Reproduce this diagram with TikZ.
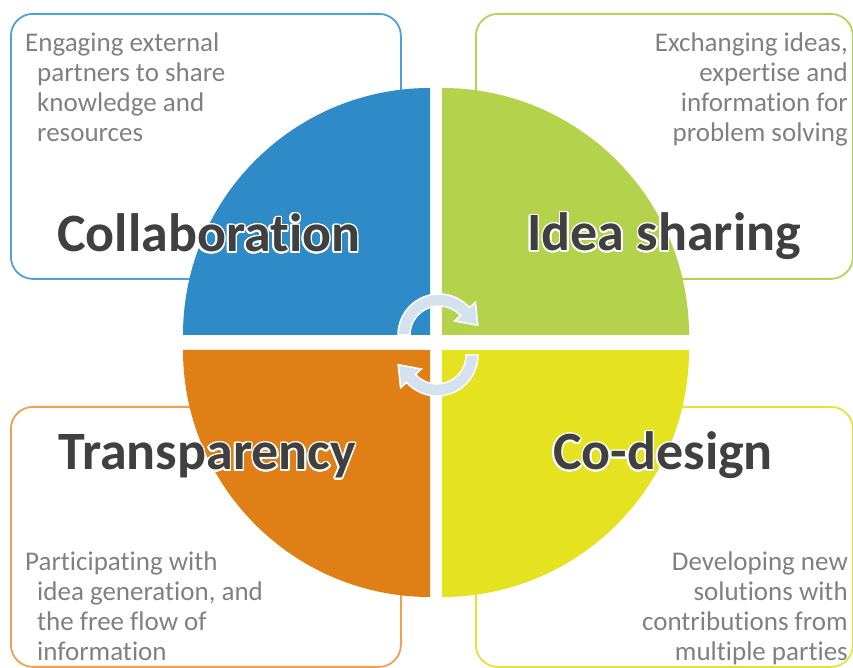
\documentclass[tikz,border=0pt]{standalone}
\usepackage{fontspec}
\setmainfont{Carlito}[Ligatures=NoCommon]
\usetikzlibrary{positioning}
\IfFileExists{contour.sty}{\usepackage{contour}\contourlength{1.6pt}\def\glowcmd{\contour{white}}}{\def\glowcmd{}}
\newcommand\glowlabel[1]{\glowcmd{#1}}

\definecolor{collabblue}{RGB}{46,139,200}
\definecolor{collabline}{RGB}{80,160,215}
\definecolor{ideagreen}{RGB}{180,210,75}
\definecolor{idealine}{RGB}{180,212,85}
\definecolor{transporange}{RGB}{224,127,22}
\definecolor{transpline}{RGB}{239,160,85}
\definecolor{codesignyellow}{RGB}{229,226,31}
\definecolor{codesignline}{RGB}{229,226,60}
\definecolor{notegray}{RGB}{128,128,128}
\definecolor{topicgray}{RGB}{64,64,64}
\definecolor{arrowblue}{RGB}{212,226,240}

\begin{document}
\begin{tikzpicture}
    [x=1pt, y=1pt,
    % STYLES
    % The frame style is used for the rounded boxes behind each quarter
    frame/.style={rectangle, rounded corners=22pt, line width=1.8pt, minimum width=390pt, minimum height=265pt, inner sep=0pt, anchor=north west},
    % The note style is used for the small descriptions in the boxes
    note/.style={inner sep=0pt, font=\fontsize{27}{30}\selectfont, text=notegray},
    % The topic style is used for the big name of each quarter
    topic/.style={inner sep=0pt, anchor=base west, font=\fontsize{54}{60}\selectfont\bfseries, text=topicgray},
    % The cycler style is used for the two round arrows in the middle
    cycler/.style={fill=arrowblue, draw=white, line width=1.5pt}]

    \useasboundingbox (0,0) rectangle (853,668);

    % Draw boxes
    \node [frame, draw=collabline] (collabBox) at (10,655) {};
    \node [frame, draw=idealine, minimum width=377pt] (ideaBox) at (475,655) {};
    \node [frame, draw=transpline, minimum height=260pt] (transpBox) at (10,262) {};
    \node [frame, draw=codesignline, minimum width=377pt, minimum height=260pt] (codesignBox) at (475,262) {};

    % Draw quarters
    \fill [collabblue] (430,333) -- (183,333) arc[start angle=180, end angle=90, radius=247] -- cycle;
    \fill [ideagreen] (442,333) -- (442,580) arc[start angle=90, end angle=0, radius=247] -- cycle;
    \fill [transporange] (430,318) -- (183,318) arc[start angle=180, end angle=270, radius=247] -- cycle;
    \fill [codesignyellow] (442,318) -- (689,318) arc[start angle=0, end angle=-90, radius=247] -- cycle;

    % Draw round arrows
    \begin{scope}[shift={(439,333)}]
    \path [cycler] (180:41) arc[start angle=180, end angle=42, radius=41] -- (42:49) -- (14:40) -- (42:21) -- (42:29) arc[start angle=42, end angle=180, radius=29] -- cycle;
    \end{scope}
    \begin{scope}[shift={(437,313)}]
    \path [cycler] (0:41) arc[start angle=0, end angle=-138, radius=41] -- (-138:49) -- (-166:40) -- (-138:21) -- (-138:29) arc[start angle=-138, end angle=0, radius=29] -- cycle;
    \end{scope}

    % Draw notes
    \node [note, anchor=north west, align=left] (collabNote) at (25,635) {
    Engaging external\\
    \hspace*{12pt}partners to share\\
    \hspace*{12pt}knowledge and\\
    \hspace*{12pt}resources
    };
    \node [note, anchor=north east, align=right] (ideaNote) at (848,635) {
    Exchanging ideas,\\
    expertise and\\
    information for\\
    problem solving
    };
    \node [note, anchor=north west, align=left] (transpNote) at (25,116) {
    Participating with\\
    \hspace*{12pt}idea generation, and\\
    \hspace*{12pt}the free flow of\\
    \hspace*{12pt}information
    };
    \node [note, anchor=north east, align=right] (codesignNote) at (848,116) {
    Developing new\\
    solutions with\\
    contributions from\\
    multiple parties
    };

    % Draw topics
    \node [topic] (collabLabel) at (57,416) {\glowlabel{Collaboration}};
    \node [topic] (ideaLabel) at (527,417) {\glowlabel{Idea sharing}};
    \node [topic] (transpLabel) at (58,198) {\glowlabel{Transparency}};
    \node [topic] (codesignLabel) at (553,198) {\glowlabel{Co-design}};
\end{tikzpicture}
\end{document}
